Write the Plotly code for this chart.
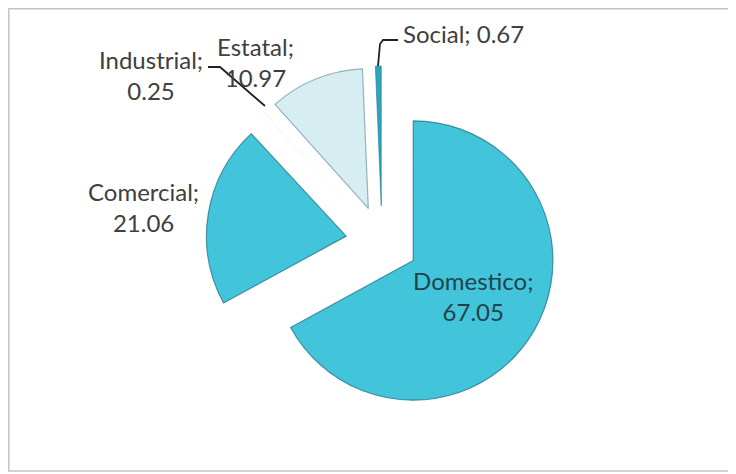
import plotly.graph_objects as go

# ---- data ----
labels = ["Domestico", "Comercial", "Industrial", "Estatal", "Social"]
values = [67.05, 21.06, 0.25, 10.97, 0.67]

# ---- styling ----
colors = ["#42C4DA", "#42C4DA", "#F6FBFC", "#D6EEF2", "#2BA7BC"]
edge_colors = ["rgba(25,110,130,0.7)", "rgba(25,110,130,0.7)", "rgba(255,255,255,0)",
               "rgba(110,150,165,0.7)", "rgba(25,110,130,0.7)"]
edge_widths = [1.2, 1.2, 0, 1.2, 0.8]
W, H = 736, 474
OFF = 8  # page body margin offset


def px(x, y):
    """page-pixel position -> paper coords (figure offset by body margin)."""
    return (x - OFF) / W, 1 - (y - OFF) / H


# inside label only for the big slice; the others are placed as annotations
inside_text = [f"{labels[0]};<br>{values[0]:.2f}", "", "", "", ""]

# pie centre (page px) and domain half size
cx, cy, half = 382, 242, 176
x0, y1 = px(cx - half, cy - half)
x1, y0 = px(cx + half, cy + half)

fig = go.Figure(go.Pie(
    labels=labels,
    values=values,
    sort=False,
    direction="clockwise",
    rotation=0,
    pull=[0.26] * len(values),
    text=inside_text,
    textinfo="text",
    textposition="inside",
    insidetextorientation="horizontal",
    automargin=False,
    marker=dict(colors=colors, line=dict(color=edge_colors, width=edge_widths)),
    textfont=dict(family="Lato", size=24, color="#23434B"),
    showlegend=False,
    hoverinfo="label+value",
    domain=dict(x=[x0, x1], y=[y0, y1]),
))

# outside labels: (label index, page-px centre, xanchor)
label_pos = {1: (143, 207, "center"), 2: (151, 75, "center"), 3: (255, 62, "center"), 4: (401, 33, "left")}
annotations = []
for i, (lx, ly, xa) in label_pos.items():
    if labels[i] == "Social":
        txt = f"{labels[i]}; {values[i]:.2f}"
    else:
        txt = f"{labels[i]};<br>{values[i]:.2f}"
    ax, ay = px(lx, ly)
    annotations.append(dict(x=ax, y=ay, xref="paper", yref="paper", text=txt,
                            showarrow=False, xanchor=xa, yanchor="middle", align="center",
                            font=dict(family="Lato", size=24, color="#404040")))


def path(points):
    s = ""
    for k, (x, y) in enumerate(points):
        X, Y = px(x, y)
        s += ("M" if k == 0 else " L") + f" {X} {Y}"
    return s


leader_lines = [
    [(378, 66), (380, 44), (383, 40), (398, 40)],      # Social
    [(208, 67), (220, 67), (265, 106)],                # Industrial
]
shapes = [dict(type="path", xref="paper", yref="paper", path=path(p),
               line=dict(color="#222222", width=1.8)) for p in leader_lines]

bx0, by0 = px(8.75, 8.75)
bx1, by1 = px(733, 471)
shapes.append(dict(type="rect", xref="paper", yref="paper", x0=bx0, x1=bx1, y0=by1, y1=by0,
                   line=dict(color="#C4C4C4", width=1.5), fillcolor="rgba(0,0,0,0)", layer="below"))

fig.update_layout(
    width=W, height=H,
    margin=dict(l=0, r=0, t=0, b=0, autoexpand=False),
    paper_bgcolor="white",
    plot_bgcolor="white",
    annotations=annotations,
    shapes=shapes,
)

fig.write_html("out.html")
